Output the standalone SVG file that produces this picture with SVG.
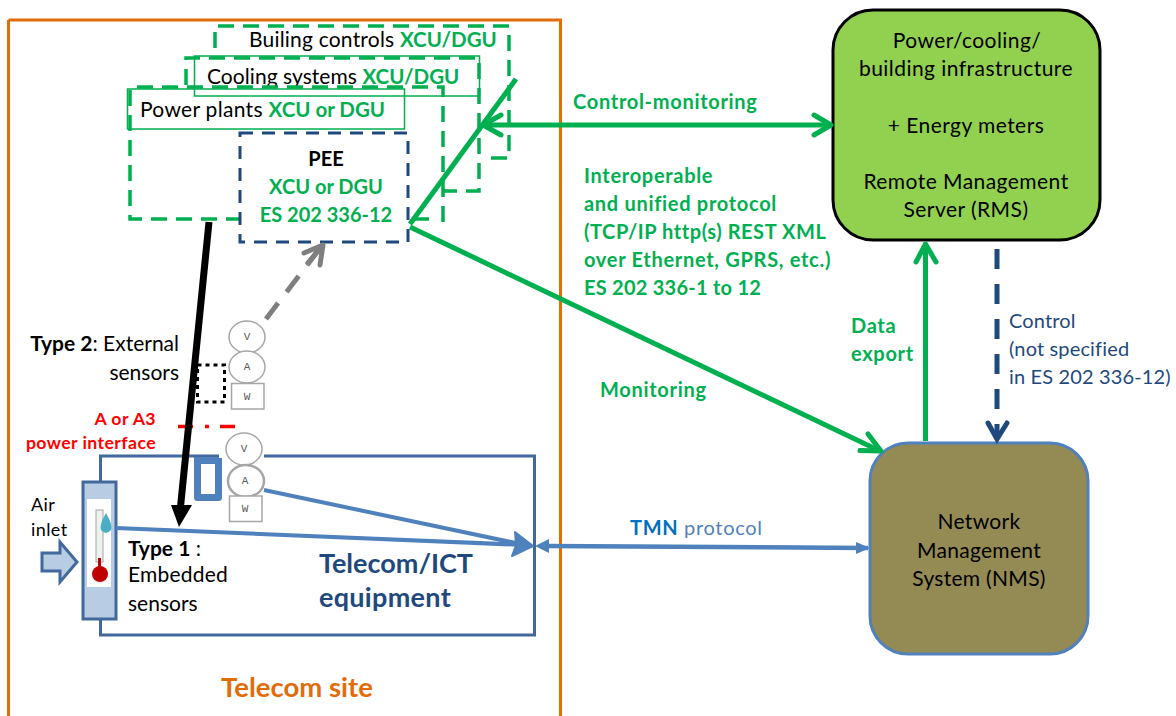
<svg xmlns="http://www.w3.org/2000/svg" width="1176" height="716" viewBox="0 0 1176 716">
<style>
text{font-family:Lato,"Open Sans",sans-serif;font-size:20px;fill:#000}
.g{fill:#00b050;font-weight:700}
.s{letter-spacing:.7px}
.k{font-size:21px;letter-spacing:.45px}
.n{font-size:21px;letter-spacing:.3px}
.t{font-size:21px;letter-spacing:.2px}
.x{font-size:20.500px;letter-spacing:0}
.ctl{fill:#1f497d;letter-spacing:.15px}
.red{font-size:17.700px;font-weight:700;fill:#f00;letter-spacing:.4px;text-anchor:end}
.mid{text-anchor:middle}
.gd{fill:none;stroke:#00b050;stroke-width:3.500;stroke-dasharray:16 9}
.lb{fill:none;stroke:#00b050;stroke-width:1.500}
.c{fill:#fff;stroke:#a6a6a6;stroke-width:1.500}
.m{font-family:"Liberation Mono",monospace;font-size:11px;fill:#595959;text-anchor:middle}
.gl{fill:none;stroke:#00b050;stroke-width:5;stroke-linecap:round;stroke-linejoin:round}
.bl{fill:none;stroke:#4f81bd;stroke-width:4}
</style>
<g id="telecom-site">
<path d="M8.500 20V716M8.500 20H560.500V716" fill="none" stroke="#e36c0a" stroke-width="3"/>
<text x="297" y="697" class="mid" style="font-size:27.500px;font-weight:700;fill:#e36c0a">Telecom site</text>
</g>
<g id="building-controls">
<path d="M215 48V26H509V158H490" class="gd"/>
<text x="249" y="47" class="t">Builing controls <tspan class="g x">XCU/DGU</tspan></text>
</g>
<g id="cooling-systems">
<path d="M186 85V58H479V191H442" class="gd"/>
<rect x="194.500" y="56" width="285" height="40" class="lb"/>
<text x="207" y="84" style="font-size:21px;letter-spacing:.05px">Cooling systems <tspan class="g x">XCU/DGU</tspan></text>
</g>
<g id="power-plants">
<path d="M130 90V219H240M413 219H437M443 222V87H128" class="gd"/>
<rect x="127.500" y="89" width="277" height="40" class="lb"/>
<text x="140" y="117" class="t" style="letter-spacing:.3px">Power plants <tspan class="g x">XCU or DGU</tspan></text>
</g>
<g id="pee">
<rect x="240" y="133" width="168" height="109" fill="none" stroke="#1f497d" stroke-width="3" stroke-dasharray="13 9"/>
<text x="326" y="166" class="mid" style="font-weight:700">PEE</text>
<text x="326" y="194" class="mid g">XCU or DGU</text>
<text x="326" y="222" class="mid g">ES 202 336-12</text>
</g>
<g id="rms">
<rect x="833" y="10" width="267" height="230" rx="40" fill="#92d050" stroke="#000" stroke-width="3"/>
<text x="967" y="48" class="mid k">Power/cooling/</text>
<text x="966" y="76" class="mid k">building infrastructure</text>
<text x="966" y="133" class="mid k">+ Energy meters</text>
<text x="966" y="189" class="mid k">Remote Management</text>
<text x="966" y="217" class="mid k">Server (RMS)</text>
</g>
<g id="nms">
<rect x="870" y="443" width="218" height="211" rx="38" fill="#948a54" stroke="#4f81bd" stroke-width="3"/>
<text x="979" y="529" class="mid n">Network</text>
<text x="979" y="558" class="mid n">Management</text>
<text x="979" y="586" class="mid n">System (NMS)</text>
</g>
<g id="equipment">
<path d="M100.500 482V456H534.500V635H100.500V610" fill="none" stroke="#41699b" stroke-width="3"/>
<rect x="219" y="450" width="45" height="12" fill="#fff"/>
<text x="319" y="573" style="font-size:27px;font-weight:700;fill:#1f497d">Telecom/ICT</text>
<text x="319" y="607" style="font-size:27px;font-weight:700;fill:#1f497d;letter-spacing:.3px">equipment</text>
</g>
<g id="air-sensor">
<rect x="83" y="482" width="33" height="137" fill="#b8cce4" stroke="#41699b" stroke-width="3"/>
<rect x="87" y="499" width="24" height="88" fill="#fff"/>
<rect x="96" y="510" width="7" height="52" fill="#eef2ee" stroke="#a6a6a6"/>
<path d="M106 513q7 12 5 17q-5 6-10 0q-2-5 5-17z" fill="#4bacc6"/>
<circle cx="100" cy="574" r="8" fill="#c00000"/>
<path d="M99.500 558v10" stroke="#c00000" stroke-width="3"/>
<path d="M42 553H60V542L77 562L60 582V571H42Z" fill="#b8cce4" stroke="#41699b" stroke-width="3"/>
<text x="31" y="511" style="font-size:18px;letter-spacing:.4px">Air</text>
<text x="31" y="536" style="font-size:18px;letter-spacing:.4px">inlet</text>
</g>
<g id="type1">
<text x="128" y="556" style="font-size:21px"><tspan style="font-weight:700">Type 1</tspan> :</text>
<text x="128" y="582" style="font-size:21px;letter-spacing:.2px">Embedded</text>
<text x="128" y="611" style="font-size:21px">sensors</text>
</g>
<g id="type2">
<text x="179" y="351" text-anchor="end" style="font-size:21px"><tspan style="font-weight:700">Type 2</tspan>: External</text>
<text x="179" y="380" text-anchor="end" style="font-size:21px">sensors</text>
<rect x="197.500" y="365" width="27" height="37" fill="none" stroke="#000" stroke-width="3" stroke-dasharray="4 4"/>
<text x="156" y="425" class="red">A or A3</text>
<text x="156" y="449" class="red">power interface</text>
<path d="M178 426.500H235" stroke="#f00" stroke-width="3.500" stroke-dasharray="15 12 4 11 15"/>
</g>
<g id="meters-external">
<ellipse cx="247" cy="337" rx="18" ry="16" class="c"/><text x="247" y="340" class="m">V</text>
<ellipse cx="247" cy="367" rx="18" ry="16" class="c"/><text x="247" y="370" class="m">A</text>
<rect x="231.500" y="383.500" width="32.500" height="25.500" class="c"/><text x="247" y="400" class="m">W</text>
</g>
<g id="meters-embedded">
<ellipse cx="244" cy="449" rx="18" ry="16" class="c"/><text x="244" y="452" class="m">V</text>
<ellipse cx="246" cy="481" rx="18" ry="16" class="c" style="stroke-width:2.500"/><text x="245" y="484" class="m">A</text>
<rect x="229.500" y="496" width="32.500" height="25.500" class="c"/><text x="245" y="512" class="m">W</text>
<path d="M197.500 458V497.500H218.500V458" fill="none" stroke="#4f81bd" stroke-width="7" stroke-linejoin="round"/>
<rect x="194" y="457" width="25" height="7" fill="#4f81bd"/>
</g>
<g id="connectors">
<path d="M209 222L180 512" stroke="#000" stroke-width="7" fill="none"/>
<path d="M171 505H192L179 527Z" fill="#000"/>
<path d="M266 319L320 248" stroke="#7f7f7f" stroke-width="5" stroke-dasharray="20 14" fill="none"/>
<path d="M304 253L323 245L320 265M308 263L322 246" stroke="#7f7f7f" stroke-width="5" fill="none" stroke-linecap="round" stroke-linejoin="round"/>
<path d="M410 224L516 79" class="gl" style="stroke-linecap:butt"/>
<path d="M483 125H830" class="gl"/>
<path d="M501 115L483 125L501 135M814 115L831 125L814 135" class="gl"/>
<path d="M410 227L880 451" class="gl" style="stroke-linecap:butt"/>
<path d="M860 450.500L881 451L868 434" class="gl"/>
<path d="M925.500 441V245" class="gl" style="stroke-linecap:butt"/>
<path d="M916 262L925.500 244L936 262" class="gl"/>
<path d="M997 249V435" stroke="#1f497d" stroke-width="5" stroke-dasharray="20 15" fill="none"/>
<path d="M988 423L997 439L1007 423" fill="none" stroke="#1f497d" stroke-width="5" stroke-linecap="round"/>
<path d="M116 528L525 545" class="bl"/>
<path d="M264 490L525 545" class="bl"/>
<path d="M515 532L533 546L512 556L516 545Z" fill="#4f81bd" stroke="#4f81bd" stroke-linejoin="round" stroke-width="2"/>
<path d="M545 546L868 548" stroke="#4f81bd" stroke-width="4.500" fill="none"/>
<path d="M549 539L535 546L549 553ZM856 542L870 548L856 554Z" fill="#4f81bd"/>
</g>
<g id="labels">
<text x="573" y="109" class="g s">Control-monitoring</text>
<text x="584" y="183" class="g s">Interoperable</text>
<text x="584" y="211" class="g s">and unified protocol</text>
<text x="584" y="239" class="g" style="letter-spacing:.55px">(TCP/IP http(s) REST XML</text>
<text x="584" y="267" class="g s">over Ethernet, GPRS, etc.)</text>
<text x="584" y="295" class="g" style="letter-spacing:.25px">ES 202 336-1 to 12</text>
<text x="600" y="397" class="g s">Monitoring</text>
<text x="851" y="333" class="g s">Data</text>
<text x="851" y="361" class="g s">export</text>
<text x="1009" y="328" class="ctl">Control</text>
<text x="1009" y="356" class="ctl">(not specified</text>
<text x="1009" y="384" class="ctl">in ES 202 336-12)</text>
<text x="630" y="535" style="fill:#0070c0;font-weight:700;letter-spacing:.7px">TMN <tspan style="fill:#4f81bd;font-weight:400">protocol</tspan></text>
</g>
</svg>
